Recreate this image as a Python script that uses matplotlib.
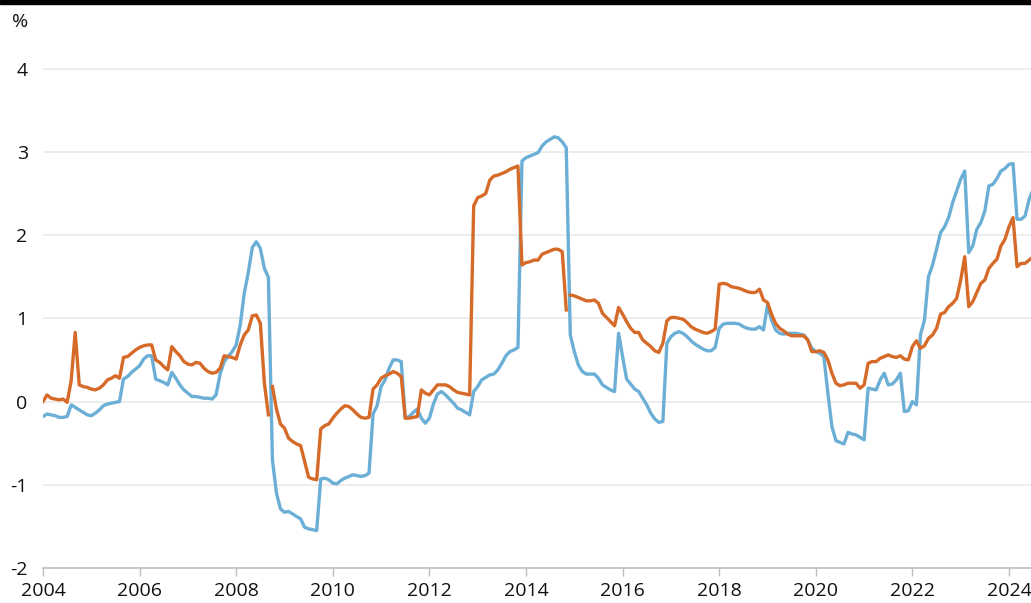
import numpy as np
import matplotlib.pyplot as plt
from matplotlib.patches import Rectangle

plt.rcParams['font.family'] = ['Open Sans', 'DejaVu Sans']

# monthly, Jan 2004 onwards
start_year = 2004
blue = [
    -0.18, -0.15, -0.16, -0.17, -0.19, -0.19, -0.18, -0.04, -0.07, -0.10, -0.13, -0.16,  # 2004
    -0.17, -0.14, -0.10, -0.05, -0.03, -0.02, -0.01, 0.00, 0.27, 0.30, 0.35, 0.39,      # 2005
    0.43, 0.51, 0.55, 0.55, 0.27, 0.25, 0.23, 0.20, 0.35, 0.28, 0.20, 0.14,             # 2006
    0.10, 0.06, 0.06, 0.05, 0.04, 0.04, 0.03, 0.08, 0.33, 0.48, 0.54, 0.60,             # 2007
    0.68, 0.92, 1.30, 1.55, 1.85, 1.92, 1.84, 1.60, 1.49, -0.70, -1.10, -1.29,          # 2008
    -1.33, -1.32, -1.35, -1.38, -1.41, -1.51, -1.53, -1.54, -1.55, -0.93, -0.92, -0.94,  # 2009
    -0.98, -0.99, -0.95, -0.92, -0.90, -0.88, -0.89, -0.90, -0.89, -0.86, -0.15, -0.05,  # 2010
    0.18, 0.26, 0.40, 0.50, 0.50, 0.48, -0.20, -0.18, -0.13, -0.09, -0.20, -0.26,       # 2011
    -0.20, -0.03, 0.09, 0.12, 0.08, 0.03, -0.02, -0.08, -0.10, -0.13, -0.16, 0.12,      # 2012
    0.18, 0.26, 0.29, 0.32, 0.33, 0.38, 0.46, 0.55, 0.60, 0.62, 0.65, 2.89,             # 2013
    2.93, 2.95, 2.97, 2.99, 3.07, 3.12, 3.15, 3.18, 3.17, 3.12, 3.05, 0.80,             # 2014
    0.60, 0.44, 0.36, 0.33, 0.33, 0.33, 0.28, 0.20, 0.17, 0.14, 0.12, 0.82,             # 2015
    0.54, 0.27, 0.21, 0.15, 0.12, 0.04, -0.04, -0.14, -0.21, -0.25, -0.24, 0.70,        # 2016
    0.78, 0.82, 0.84, 0.82, 0.78, 0.73, 0.69, 0.66, 0.63, 0.61, 0.61, 0.65,             # 2017
    0.88, 0.93, 0.94, 0.94, 0.94, 0.93, 0.90, 0.88, 0.87, 0.87, 0.90, 0.86,             # 2018
    1.16, 0.98, 0.86, 0.82, 0.81, 0.82, 0.82, 0.82, 0.81, 0.80, 0.74, 0.64,             # 2019
    0.60, 0.58, 0.54, 0.10, -0.30, -0.47, -0.49, -0.51, -0.37, -0.39, -0.40, -0.43,     # 2020
    -0.46, 0.16, 0.15, 0.14, 0.26, 0.34, 0.20, 0.21, 0.26, 0.34, -0.12, -0.11,          # 2021
    0.00, -0.04, 0.80, 0.98, 1.50, 1.64, 1.83, 2.03, 2.10, 2.21, 2.39, 2.53,            # 2022
    2.67, 2.77, 1.79, 1.87, 2.07, 2.15, 2.29, 2.59, 2.61, 2.68, 2.77, 2.80,             # 2023
    2.85, 2.86, 2.19, 2.19, 2.23, 2.43, 2.55,                                           # 2024
]
orange = [
    0.00, 0.08, 0.04, 0.03, 0.02, 0.03, -0.01, 0.25, 0.83, 0.20, 0.18, 0.17,            # 2004
    0.15, 0.14, 0.16, 0.20, 0.26, 0.28, 0.31, 0.28, 0.53, 0.54, 0.58, 0.62,             # 2005
    0.65, 0.67, 0.68, 0.68, 0.50, 0.47, 0.42, 0.38, 0.66, 0.60, 0.55, 0.48,             # 2006
    0.45, 0.44, 0.47, 0.46, 0.40, 0.36, 0.34, 0.35, 0.40, 0.55, 0.54, 0.53,             # 2007
    0.51, 0.68, 0.80, 0.86, 1.03, 1.04, 0.94, 0.22, -0.16, 0.18, -0.09, -0.27,          # 2008
    -0.32, -0.44, -0.48, -0.51, -0.53, -0.72, -0.91, -0.93, -0.94, -0.33, -0.29, -0.27,  # 2009
    -0.20, -0.14, -0.09, -0.05, -0.06, -0.10, -0.15, -0.19, -0.20, -0.19, 0.15, 0.20,   # 2010
    0.28, 0.31, 0.33, 0.36, 0.34, 0.30, -0.20, -0.20, -0.19, -0.18, 0.14, 0.10,         # 2011
    0.08, 0.14, 0.20, 0.20, 0.20, 0.18, 0.14, 0.11, 0.10, 0.09, 0.08, 2.35,             # 2012
    2.45, 2.47, 2.50, 2.66, 2.71, 2.72, 2.74, 2.76, 2.79, 2.81, 2.83, 1.64,             # 2013
    1.67, 1.68, 1.70, 1.70, 1.77, 1.79, 1.81, 1.83, 1.83, 1.80, 1.10, 1.28,             # 2014
    1.27, 1.25, 1.23, 1.21, 1.21, 1.22, 1.18, 1.06, 1.01, 0.96, 0.91, 1.13,             # 2015
    1.05, 0.96, 0.88, 0.83, 0.83, 0.74, 0.70, 0.66, 0.61, 0.59, 0.70, 0.97,             # 2016
    1.01, 1.01, 1.00, 0.99, 0.95, 0.90, 0.87, 0.85, 0.83, 0.82, 0.84, 0.87,             # 2017
    1.41, 1.42, 1.41, 1.38, 1.37, 1.36, 1.34, 1.32, 1.31, 1.31, 1.35, 1.22,             # 2018
    1.19, 1.05, 0.94, 0.88, 0.85, 0.81, 0.79, 0.79, 0.79, 0.79, 0.74, 0.60,             # 2019
    0.60, 0.61, 0.59, 0.50, 0.34, 0.22, 0.19, 0.20, 0.22, 0.22, 0.22, 0.16,             # 2020
    0.20, 0.46, 0.48, 0.48, 0.52, 0.54, 0.56, 0.54, 0.53, 0.55, 0.51, 0.50,             # 2021
    0.66, 0.73, 0.64, 0.67, 0.76, 0.80, 0.88, 1.05, 1.07, 1.14, 1.18, 1.24,             # 2022
    1.46, 1.74, 1.14, 1.20, 1.31, 1.42, 1.46, 1.60, 1.66, 1.71, 1.87, 1.95,             # 2023
    2.10, 2.21, 1.62, 1.66, 1.66, 1.70, 1.74,                                           # 2024
]
# orange line is not joined after these months (series breaks)
orange_breaks = [56, 130]

x_ticks = list(range(2004, 2025, 2))
y_ticks = [-2, -1, 0, 1, 2, 3, 4]

blue_col = '#6baed6'
orange_col = '#d66a28'

t = start_year + np.arange(len(blue)) / 12
t_o = start_year + np.arange(len(orange)) / 12

fig = plt.figure(figsize=(10.31, 6.03), dpi=100)
ax = fig.add_axes([43 / 1031, 35 / 603, 988 / 1031, 541 / 603])

ax.plot(t, blue, color=blue_col, lw=2.4, zorder=3)
cuts = [0] + [b + 1 for b in orange_breaks] + [len(orange)]
for a, b in zip(cuts[:-1], cuts[1:]):
    ax.plot(t_o[a:b], orange[a:b], color=orange_col, lw=2.4, zorder=4)

ax.set_xlim(2004, 2004 + 988 / 48.3)
ax.set_ylim(-2, 4.5)
ax.set_xticks(x_ticks)
ax.set_xticklabels([str(v) for v in x_ticks])
ax.set_yticks(y_ticks)
ax.set_yticklabels([str(v) for v in y_ticks])

for v in y_ticks[1:]:
    ax.axhline(v, color='#ececec', lw=1.3, zorder=1)

for s in ['top', 'right', 'left']:
    ax.spines[s].set_visible(False)
ax.spines['bottom'].set_color('#bdbdbd')
ax.spines['bottom'].set_linewidth(1.2)
ax.spines['bottom'].set_zorder(2)

ax.tick_params(axis='x', length=6, width=1, color='#bdbdbd', pad=4, labelsize=14, labelcolor='#111111')
ax.tick_params(axis='y', length=0, pad=11, labelsize=14, labelcolor='#111111')

fig.text(12 / 1031, 1 - 22 / 603, '%', fontsize=14, color='#111111', va='center', ha='left')
fig.patches.append(Rectangle((0, 1 - 4 / 603), 1, 4 / 603, transform=fig.transFigure,
                             color='black', zorder=10))

fig.savefig('out.png', dpi=100)
